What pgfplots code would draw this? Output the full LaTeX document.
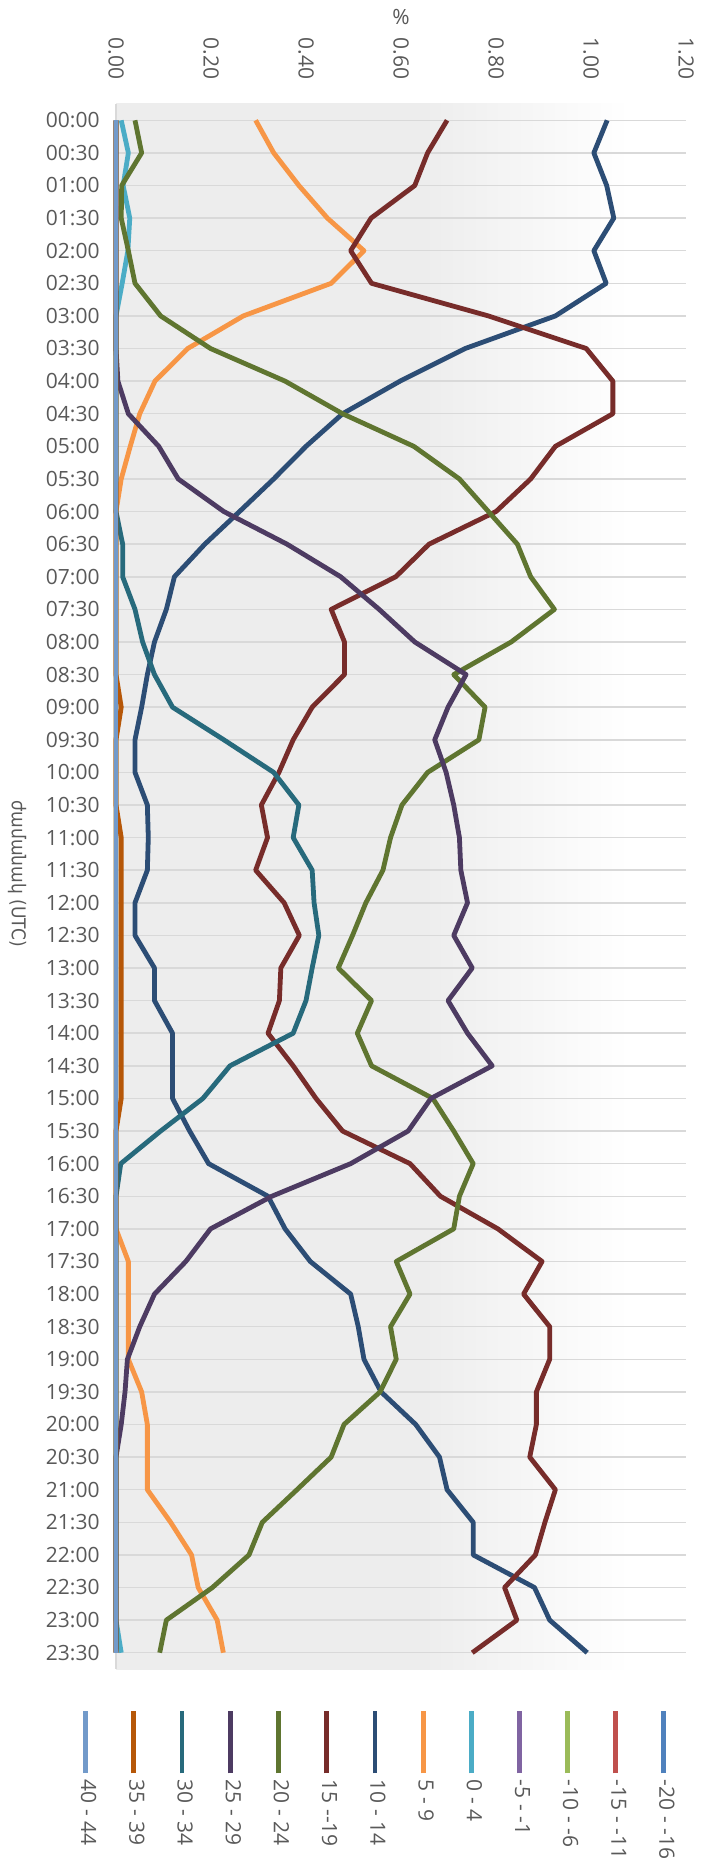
\documentclass[border=0pt]{standalone}
\usepackage{pgfplots}
\pgfplotsset{compat=1.18}
\usepackage{pgfplotstable}
\usepackage{fontspec}
\setmainfont{Open Sans}
\newfontfamily\armfont{DejaVu Sans}[FakeStretch=0.9]
\definecolor{c1}{HTML}{4F81BD}
\definecolor{c2}{HTML}{C0504D}
\definecolor{c3}{HTML}{9BBB59}
\definecolor{c4}{HTML}{8064A2}
\definecolor{c5}{HTML}{4BACC6}
\definecolor{c6}{HTML}{F79646}
\definecolor{c7}{HTML}{2C4D75}
\definecolor{c8}{HTML}{772C2A}
\definecolor{c9}{HTML}{5F7530}
\definecolor{c10}{HTML}{4D3B62}
\definecolor{c11}{HTML}{276A7C}
\definecolor{c12}{HTML}{B65708}
\definecolor{c13}{HTML}{729ACA}
\definecolor{labelgray}{HTML}{595959}
\definecolor{gridgray}{HTML}{D9D9D9}
\definecolor{bgL}{HTML}{EDEDED}
\pgfdeclarehorizontalshading{bgshade}{100bp}{color(0bp)=(bgL); color(25bp)=(bgL); color(52bp)=(bgL); color(70bp)=(white); color(100bp)=(white)}

\pgfplotstableread{
t  a04   a59   a1014 a1519 a2024 a2529 a3034 a3539 z
0  0.011 0.294 1.034 0.697 0.040 0     0     0     0
1  0.026 0.332 1.006 0.656 0.054 0     0     0     0
2  0.015 0.385 1.033 0.629 0.012 0     0     0     0
3  0.029 0.445 1.048 0.537 0.011 0     0     0     0
4  0.025 0.522 1.006 0.494 0.026 0     0     0     0
5  0.013 0.453 1.032 0.538 0.040 0     0     0     0
6  0     0.268 0.925 0.784 0.094 0     0     0     0
7  0     0.151 0.735 0.990 0.199 0     0     0     0
8  0     0.082 0.598 1.046 0.356 0.004 0     0     0
9  0     0.050 0.477 1.046 0.477 0.026 0     0     0
10 0     0.030 0.400 0.925 0.627 0.090 0     0     0
11 0     0.011 0.332 0.873 0.723 0.131 0     0     0
12 0     0     0.260 0.800 0.784 0.227 0     0     0
13 0     0     0.187 0.659 0.845 0.360 0.014 0     0
14 0     0     0.123 0.589 0.873 0.473 0.014 0     0
15 0     0     0.106 0.453 0.923 0.554 0.040 0     0
16 0     0     0.081 0.481 0.832 0.629 0.056 0     0
17 0     0     0.066 0.481 0.711 0.737 0.081 0     0
18 0     0     0.054 0.413 0.777 0.699 0.119 0.011 0
19 0     0     0.040 0.373 0.764 0.671 0.227 0     0
20 0     0     0.040 0.343 0.656 0.695 0.332 0     0
21 0     0     0.066 0.306 0.602 0.711 0.385 0     0
22 0     0     0.068 0.319 0.578 0.723 0.373 0.011 0
23 0     0     0.066 0.294 0.562 0.726 0.413 0.011 0
24 0     0     0.040 0.354 0.526 0.740 0.417 0.011 0
25 0     0     0.040 0.386 0.498 0.711 0.427 0.011 0
26 0     0     0.081 0.347 0.468 0.750 0.413 0.011 0
27 0     0     0.081 0.344 0.538 0.699 0.400 0.011 0
28 0     0     0.119 0.320 0.508 0.740 0.373 0.011 0
29 0     0     0.119 0.373 0.538 0.792 0.240 0.011 0
30 0     0     0.119 0.421 0.667 0.663 0.183 0.011 0
31 0     0     0.155 0.477 0.711 0.615 0.094 0     0
32 0     0     0.195 0.619 0.752 0.494 0.010 0     0
33 0     0     0.320 0.683 0.723 0.328 0     0     0
34 0     0     0.356 0.804 0.711 0.199 0     0     0
35 0     0.026 0.409 0.897 0.590 0.147 0     0     0
36 0     0.026 0.494 0.858 0.619 0.081 0     0     0
37 0     0.026 0.510 0.913 0.578 0.050 0     0     0
38 0     0.026 0.522 0.913 0.590 0.024 0     0     0
39 0     0.054 0.558 0.885 0.556 0.019 0     0     0
40 0     0.066 0.631 0.885 0.480 0.011 0     0     0
41 0     0.066 0.681 0.871 0.453 0     0     0     0
42 0     0.066 0.697 0.925 0.381 0     0     0     0
43 0     0.115 0.752 0.903 0.308 0     0     0     0
44 0     0.159 0.752 0.883 0.280 0     0     0     0
45 0     0.173 0.881 0.818 0.203 0     0     0     0
46 0     0.213 0.913 0.844 0.106 0     0     0     0
47 0.011 0.226 0.992 0.750 0.092 0     0     0     0
}\data

\begin{document}
\begin{tikzpicture}
\begin{axis}[
  scale only axis, width=285pt, height=782.5pt,
  xmin=0, xmax=1.2, ymin=-0.5, ymax=47.5, y dir=reverse,
  enlargelimits=false, clip=false,
  axis x line*=top, axis y line*=left, axis line style={-},
  x axis line style={draw=none},
  y axis line style={draw=gridgray, line width=0.75pt},
  major tick length=0pt,
  xtick={0,0.2,0.4,0.6,0.8,1,1.2},
  tick label style={font=\fontsize{10.5}{12.6}\selectfont, text=labelgray},
  xticklabel style={rotate=-90, anchor=east, /pgf/number format/.cd, fixed, fixed zerofill, precision=2, assume math mode=true},
  xticklabel shift=8.7pt,
  ytick={0,...,47},
  yticklabels={00:00,00:30,01:00,01:30,02:00,02:30,03:00,03:30,04:00,04:30,05:00,05:30,06:00,06:30,07:00,07:30,08:00,08:30,09:00,09:30,10:00,10:30,11:00,11:30,12:00,12:30,13:00,13:30,14:00,14:30,15:00,15:30,16:00,16:30,17:00,17:30,18:00,18:30,19:00,19:30,20:00,20:30,21:00,21:30,22:00,22:30,23:00,23:30},
  yticklabel shift=4.7pt,
  ymajorgrids, grid style={draw=gridgray, line width=0.75pt},
  xlabel={\%},
  xlabel style={at={([yshift=39.5pt]axis cs:0.6,-0.5)}, anchor=base, font=\fontsize{10.5}{12.6}\selectfont, text=labelgray},
  ylabel={\armfont ժամանակ (UTC)},
  ylabel style={at={(axis cs:-0.208,23.1)}, anchor=center, rotate=180, font=\fontsize{9.5}{11}\selectfont, text=labelgray},
  axis background/.style={shading=bgshade},
  reverse legend,
  legend columns=13,
  legend style={at={([yshift=-53pt]axis cs:0.548,47.5)}, anchor=north, draw=none, fill=none, inner sep=0pt,
    font=\fontsize{10.5}{12.6}\selectfont, text=labelgray,
    /tikz/every odd column/.style={column sep=0pt},
    /tikz/every even column/.style={column sep=11pt},
    cells={anchor=west}, nodes={rotate=-90, inner sep=2pt}},
  legend image code/.code={\draw[#1, overlay] (5.75pt,1pt) -- (5.75pt,32pt);},
  every axis plot/.append style={line width=2.4pt, line join=round, mark=none},
]
\addplot[c1]  table[x=z,     y=t] {\data}; \addlegendentry{-20 - -16}
\addplot[c2]  table[x=z,     y=t] {\data}; \addlegendentry{-15 - -11}
\addplot[c3]  table[x=z,     y=t] {\data}; \addlegendentry{-10 - -6}
\addplot[c4]  table[x=z,     y=t] {\data}; \addlegendentry{-5 - -1}
\addplot[c5]  table[x=a04,   y=t] {\data}; \addlegendentry{0 - 4}
\addplot[c6]  table[x=a59,   y=t] {\data}; \addlegendentry{5 - 9}
\addplot[c7]  table[x=a1014, y=t] {\data}; \addlegendentry{10 - 14}
\addplot[c8]  table[x=a1519, y=t] {\data}; \addlegendentry{15 -{}-19}
\addplot[c9]  table[x=a2024, y=t] {\data}; \addlegendentry{20 - 24}
\addplot[c10] table[x=a2529, y=t] {\data}; \addlegendentry{25 - 29}
\addplot[c11] table[x=a3034, y=t] {\data}; \addlegendentry{30 - 34}
\addplot[c12] table[x=a3539, y=t] {\data}; \addlegendentry{35 - 39}
\addplot[c13] table[x=z,     y=t] {\data}; \addlegendentry{40 - 44}
\coordinate (P) at (axis cs:0,-0.5);
\coordinate (Q) at (axis cs:1.2,47.5);
\end{axis}
\pgfresetboundingbox
\path ([shift={(-58pt,52pt)}]P) rectangle ([shift={(8.5pt,-95.5pt)}]Q);
\end{tikzpicture}
\end{document}
